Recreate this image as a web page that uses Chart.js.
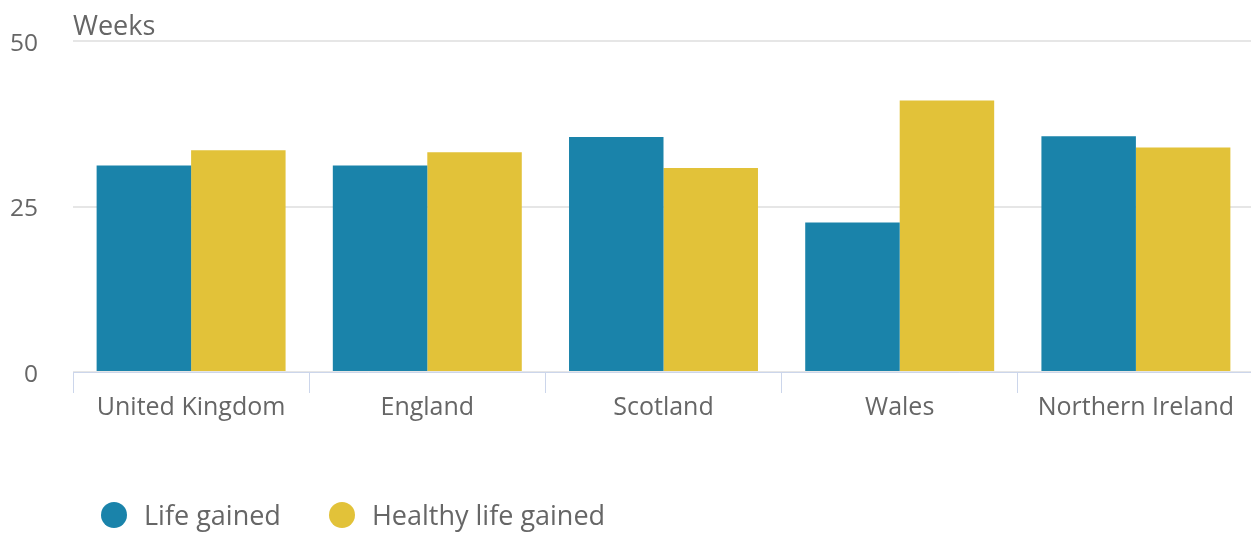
<!DOCTYPE html>
<html>
<head>
<meta charset="utf-8">
<script src="https://cdn.jsdelivr.net/npm/chart.js@4.4.1/dist/chart.umd.min.js"></script>
<style>
  body { margin: 0; background: #fff; font-family: 'Open Sans', sans-serif; }
  #wrap { position: relative; width: 1251px; height: 534px; overflow: hidden; }
  #unit { position: absolute; left: 73px; top: 8px; font-size: 27px; line-height: 34px; color: #666; }
  #legend { position: absolute; left: 101px; top: 500px; display: flex; gap: 48px; }
  .item { display: flex; align-items: center; font-size: 27px; line-height: 30px; color: #666; }
  .dot { width: 26px; height: 26px; border-radius: 50%; margin-right: 17px; }
</style>
</head>
<body>
<div id="wrap">
  <canvas id="my-chart" width="1254" height="534"></canvas>
  <div id="unit">Weeks</div>
  <div id="legend"></div>
</div>
<script>
const categories = ['United Kingdom', 'England', 'Scotland', 'Wales', 'Northern Ireland'];
const lifeGained = [31.2, 31.2, 35.5, 22.6, 35.6];
const healthyLifeGained = [33.5, 33.2, 30.8, 41.0, 33.9];
const yTicks = [0, 25, 50];

const seriesNames = ['Life gained', 'Healthy life gained'];
const seriesColors = ['#1a83aa', '#e2c239'];

// setup block
const data = {
    labels: categories,
    datasets: [
        { label: seriesNames[0], data: lifeGained, backgroundColor: seriesColors[0] },
        { label: seriesNames[1], data: healthyLifeGained, backgroundColor: seriesColors[1] }
    ]
};

// config block
const config = {
    type: 'bar',
    data,
    options: {
        responsive: false,
        animation: false,
        layout: { padding: { top: 41, right: 0, bottom: 0, left: 0 } },
        datasets: {
            bar: { categoryPercentage: 0.8, barPercentage: 1, borderWidth: 0 }
        },
        plugins: {
            legend: { display: false },
            tooltip: { enabled: false }
        },
        scales: {
            x: {
                grid: { drawOnChartArea: false, drawTicks: true, tickLength: 21, color: '#ccd6eb' },
                border: { color: '#ccd6eb', width: 1 },
                ticks: {
                    color: '#666', padding: 0, maxRotation: 0, autoSkip: false,
                    font: { family: 'Open Sans', size: 25 }
                },
                afterFit: (scale) => {
                    scale.height = 162;
                    scale.paddingLeft = 0;
                    scale.paddingRight = 0;
                }
            },
            y: {
                min: 0,
                max: 50,
                afterBuildTicks: (scale) => { scale.ticks = yTicks.map(v => ({ value: v })); },
                grid: { color: '#e6e6e6', lineWidth: 2, drawTicks: false },
                border: { display: false },
                ticks: {
                    color: '#666', padding: 35, labelOffset: 3,
                    font: { family: 'Open Sans', size: 24.5 }
                },
                afterFit: (scale) => {
                    scale.width = 73;
                    scale.paddingTop = 0;
                    scale.paddingBottom = 0;
                }
            }
        }
    }
};

// render init block
const myChart = new Chart(document.getElementById('my-chart'), config);

// html legend from the datasets
const legend = document.getElementById('legend');
myChart.data.datasets.forEach(ds => {
    const item = document.createElement('div');
    item.className = 'item';
    item.innerHTML = `<span class="dot" style="background:${ds.backgroundColor}"></span><span>${ds.label}</span>`;
    legend.appendChild(item);
});
</script>
</body>
</html>
